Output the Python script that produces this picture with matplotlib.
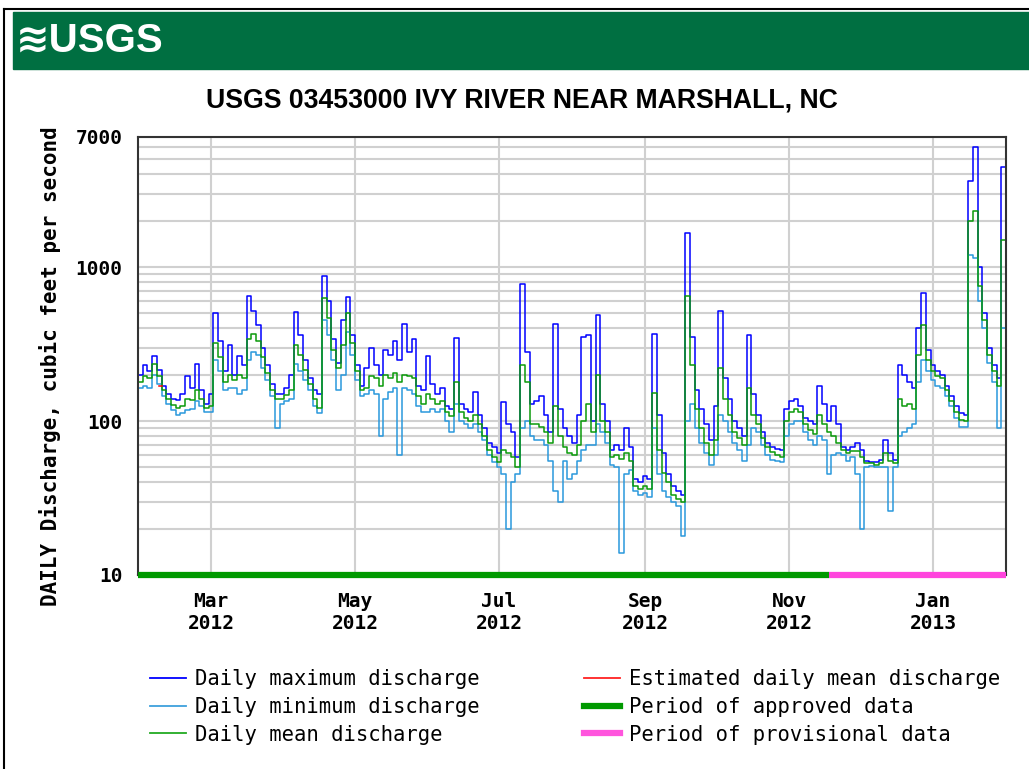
import matplotlib
matplotlib.use("Agg")
import matplotlib.pyplot as plt
import pandas as pd
from matplotlib import font_manager
from matplotlib.lines import Line2D
from matplotlib.patches import Rectangle
from matplotlib.ticker import LogLocator, NullFormatter

# daily discharge, cubic feet per second in 2-day steps from 2012-01-30
start = "2012-01-30"
end = "2013-02-01"
max_q = [200, 230, 210, 265, 215, 170, 150, 140, 138, 150, 195, 165, 235, 160, 130, 150,
         500, 330, 210, 310, 200, 265, 230, 650, 520, 420, 300, 230, 175, 150, 150, 165,
         200, 510, 360, 250, 190, 160, 150, 880, 600, 340, 240, 450, 640, 360, 230, 170,
         220, 300, 230, 200, 290, 270, 330, 250, 430, 280, 340, 170, 160, 265, 175, 150,
         165, 125, 120, 345, 130, 120, 115, 155, 110, 90, 72, 68, 62, 133, 95, 85,
         58, 780, 280, 130, 135, 145, 110, 85, 430, 120, 90, 80, 72, 110, 350, 360,
         100, 490, 130, 100, 65, 70, 65, 90, 68, 42, 40, 44, 42, 370, 110, 62,
         45, 38, 35, 33, 1660, 350, 160, 120, 95, 75, 125, 520, 190, 140, 100, 90,
         80, 360, 150, 110, 85, 72, 68, 66, 65, 120, 135, 140, 125, 105, 100, 95,
         170, 130, 100, 125, 95, 68, 65, 68, 72, 65, 55, 54, 54, 56, 75, 62,
         56, 230, 200, 180, 165, 400, 680, 290, 230, 210, 200, 170, 145, 125, 112, 110,
         3600, 6000, 1000, 500, 300, 230, 190, 4500]
mean_q = [180, 195, 190, 235, 195, 160, 140, 128, 122, 125, 140, 138, 160, 140, 122, 125,
          320, 260, 180, 200, 185, 200, 190, 340, 370, 330, 260, 205, 160, 140, 140, 148,
          160, 310, 270, 215, 175, 140, 122, 630, 470, 290, 220, 310, 500, 320, 210, 160,
          165, 195, 190, 170, 200, 190, 205, 180, 200, 195, 190, 145, 130, 150, 140, 130,
          135, 115, 108, 180, 115, 105, 100, 110, 95, 80, 65, 58, 54, 65, 62, 58,
          50, 230, 180, 95, 95, 92, 85, 72, 125, 80, 68, 62, 60, 70, 100, 130,
          85, 200, 100, 85, 58, 60, 57, 62, 55, 38, 36, 38, 36, 152, 65, 46,
          40, 33, 31, 30, 650, 230, 120, 90, 72, 60, 75, 220, 140, 110, 85, 78,
          70, 165, 110, 95, 78, 68, 63, 60, 58, 100, 115, 120, 115, 95, 88, 82,
          110, 95, 85, 80, 72, 65, 62, 64, 64, 58, 53, 53, 52, 53, 62, 55,
          53, 140, 125, 130, 120, 270, 420, 250, 210, 195, 190, 160, 135, 115, 102, 100,
          2000, 2300, 750, 450, 270, 210, 170, 1500]
min_q = [165, 170, 165, 200, 175, 145, 130, 118, 110, 112, 118, 120, 135, 125, 115, 115,
         250, 210, 160, 165, 165, 150, 160, 250, 280, 270, 220, 185, 145, 90, 130, 135,
         140, 235, 210, 185, 160, 125, 112, 450, 360, 250, 160, 200, 380, 270, 185, 145,
         150, 160, 150, 80, 140, 155, 165, 60, 165, 160, 150, 125, 115, 115, 120, 115,
         120, 100, 85, 130, 100, 95, 90, 95, 85, 75, 60, 54, 50, 45, 20, 40,
         45, 90, 100, 80, 75, 75, 70, 55, 35, 30, 55, 42, 45, 55, 65, 70,
         70, 95, 85, 72, 52, 50, 14, 45, 48, 35, 33, 34, 32, 90, 45, 35,
         32, 30, 28, 18, 100, 130, 90, 72, 62, 52, 60, 110, 100, 85, 72, 65,
         55, 70, 90, 85, 70, 60, 56, 55, 54, 80, 95, 100, 100, 85, 75, 70,
         80, 75, 45, 60, 62, 60, 55, 58, 45, 20, 50, 51, 50, 50, 50, 26,
         50, 80, 85, 90, 95, 180, 250, 210, 185, 170, 165, 145, 125, 105, 92, 92,
         1200, 1150, 600, 400, 240, 180, 90, 400]
est_dates = ["2012-02-08", "2012-02-09"]
est_mean = [168, 168]
approved = ["2012-01-30", "2012-11-18"]
provisional = ["2012-11-18", "2013-02-01"]
tick_dates = ["2012-03-01", "2012-05-01", "2012-07-01", "2012-09-01", "2012-11-01", "2013-01-01"]
tick_labels = ["Mar\n2012", "May\n2012", "Jul\n2012", "Sep\n2012", "Nov\n2012", "Jan\n2013"]
y_ticks = [10, 100, 1000, 7000]

names = {f.name for f in font_manager.fontManager.ttflist}
narrow = "Liberation Sans Narrow" in names
title_font = "Liberation Sans Narrow" if narrow else "Liberation Sans"
mono = "DejaVu Sans Mono"

W, H = 1029, 769
fig = plt.figure(figsize=(W / 100, H / 100), dpi=100)

# header band with logo
fig.patches.append(Rectangle((13 / W, 1 - 69 / H), 1 - 13 / W, 57 / H,
                             transform=fig.transFigure, color="#006f41", zorder=0))
fig.text(16 / W, 1 - 41 / H, "≋USGS", color="white", fontsize=29, fontweight="bold",
         family=[title_font, "DejaVu Sans"], va="center", ha="left")
fig.add_artist(Line2D([4 / W, 4 / W], [0, 1 - 9 / H], color="black", lw=1.5))
fig.add_artist(Line2D([4 / W, 1], [1 - 9 / H, 1 - 9 / H], color="black", lw=1.5))

fig.text(522 / W, 1 - 100 / H, "USGS 03453000 IVY RIVER NEAR MARSHALL, NC",
         fontsize=22 if narrow else 19.2, fontweight="bold", family=title_font,
         ha="center", va="center")

ax = fig.add_axes([138 / W, 1 - 575 / H, (1006 - 138) / W, (575 - 137) / H])

dates = list(pd.date_range(start, periods=len(mean_q), freq="2D")) + [pd.Timestamp(end)]
ax.plot(dates, max_q + max_q[-1:], drawstyle="steps-post", color="#0000ff", lw=1.1)
ax.plot(dates, min_q + min_q[-1:], drawstyle="steps-post", color="#2a98dc", lw=1.1)
ax.plot(dates, mean_q + mean_q[-1:], drawstyle="steps-post", color="#0a9a0a", lw=1.1)
ax.plot(pd.to_datetime(est_dates), est_mean, color="#ff0000", lw=1.1)

ax.plot(pd.to_datetime(approved), [10, 10], color="#009900", lw=4.5,
        solid_capstyle="butt", clip_on=False, zorder=5)
ax.plot(pd.to_datetime(provisional), [10, 10], color="#ff44dd", lw=4.5,
        solid_capstyle="butt", clip_on=False, zorder=5)

ax.set_yscale("log")
ax.set_ylim(10, 7000)
ax.set_xlim(pd.Timestamp(start), pd.Timestamp(end))
ax.set_yticks(y_ticks)
ax.set_yticklabels([str(v) for v in y_ticks])
ax.yaxis.set_minor_locator(LogLocator(base=10, subs=range(2, 10)))
ax.yaxis.set_minor_formatter(NullFormatter())
ax.set_xticks(pd.to_datetime(tick_dates))
ax.set_xticklabels(tick_labels)
ax.set_axisbelow(True)
ax.grid(True, which="both", axis="y", color="#d0d0d0", lw=1.5)
ax.grid(True, which="major", axis="x", color="#d0d0d0", lw=1.5)
ax.tick_params(which="both", length=0)
ax.tick_params(axis="y", pad=11)
ax.tick_params(axis="x", pad=12)
for lab in ax.get_xticklabels() + ax.get_yticklabels():
    lab.set_family(mono)
    lab.set_fontweight("bold")
    lab.set_fontsize(14)
    lab.set_linespacing(1.2)
for sp in ax.spines.values():
    sp.set_color("#333333")
    sp.set_linewidth(1.5)

fig.text(50 / W, 1 - 366 / H, "DAILY Discharge, cubic feet per second", rotation=90,
         family=mono, fontweight="bold", fontsize=15, ha="center", va="center")

handles = [
    Line2D([], [], color="#0000ff", lw=1.3),
    Line2D([], [], color="#3ea0dc", lw=1.3),
    Line2D([], [], color="#22aa22", lw=1.3),
    Line2D([], [], color="#ff2222", lw=1.3),
    Line2D([], [], color="#009900", lw=4.5),
    Line2D([], [], color="#ff55dd", lw=4.5),
]
labels = ["Daily maximum discharge", "Daily minimum discharge", "Daily mean discharge",
          "Estimated daily mean discharge", "Period of approved data",
          "Period of provisional data"]
fig.legend(handles, labels, ncol=2, loc="upper left", bbox_to_anchor=(150 / W, 1 - 669 / H),
           frameon=False, prop={"family": mono, "size": 14.8}, handlelength=1.75,
           handletextpad=0.45, columnspacing=5.05, labelspacing=0.38, borderpad=0,
           borderaxespad=0)

fig.savefig("out.png", dpi=100)
